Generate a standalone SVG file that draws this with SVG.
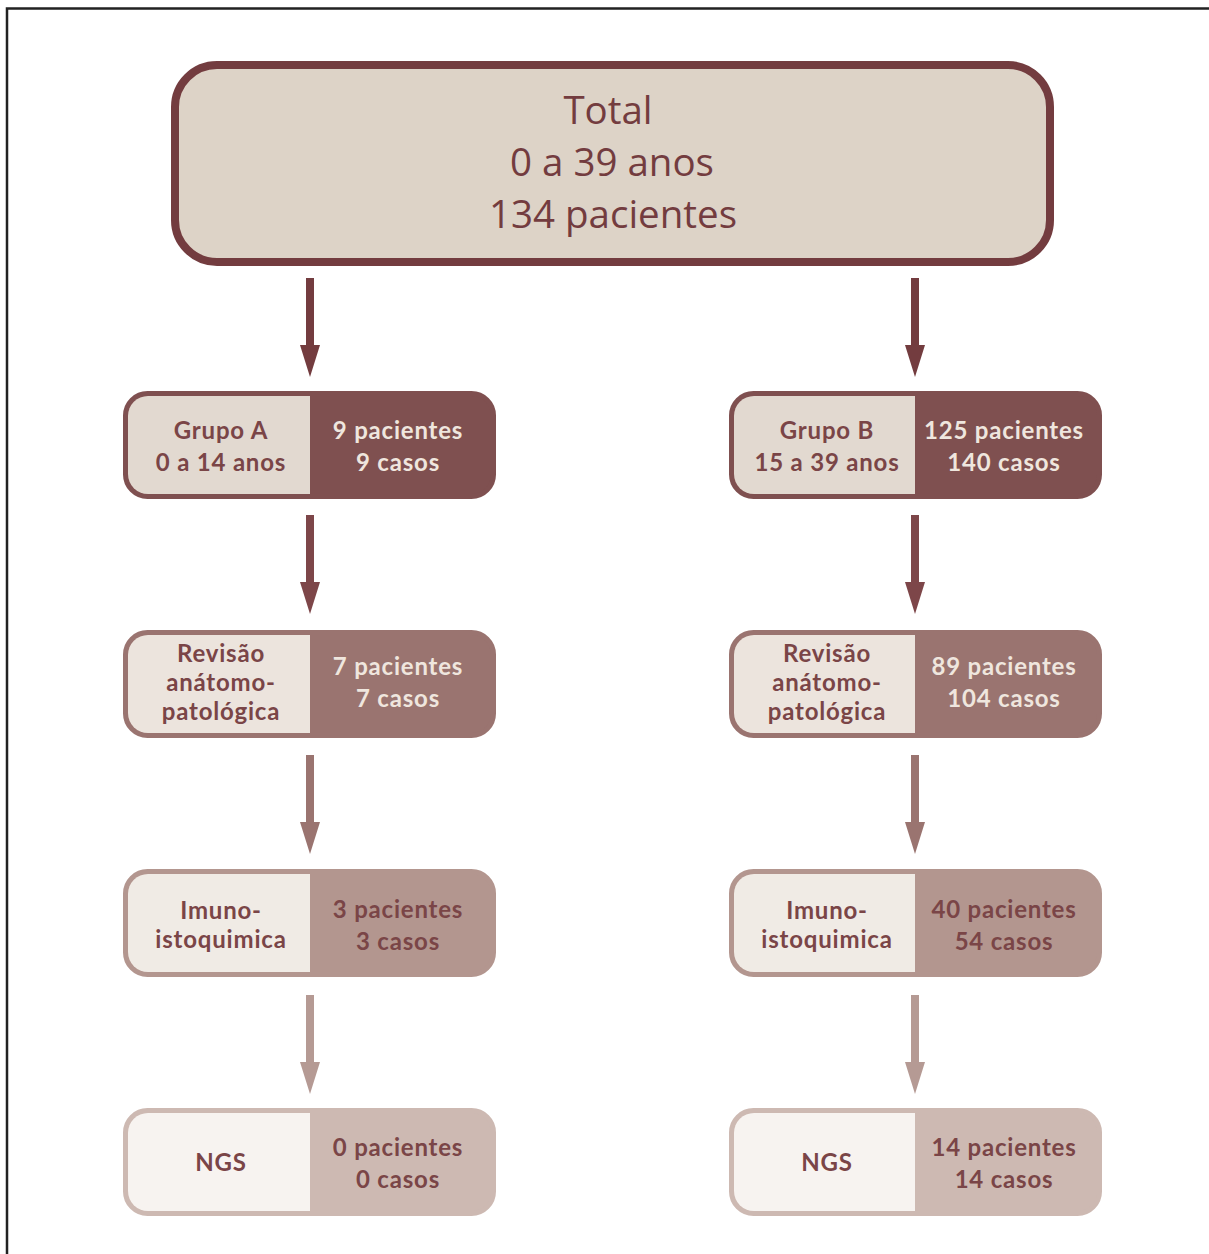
<svg xmlns="http://www.w3.org/2000/svg" width="1209" height="1254" viewBox="0 0 1209 1254">
<style>
  text { font-family: "Open Sans", "Liberation Sans", sans-serif; text-anchor: middle; }
  .top { font-size: 38.5px; fill: #733c3f; font-weight: 400; }
  .lbl { font-family: Lato, "Open Sans", sans-serif; font-size: 24px; font-weight: 700; letter-spacing: 0.8px; }
  .dk { fill: #7a4547; }
  .lt { fill: #efe6de; }
  .frame { fill: none; stroke: #222; stroke-width: 2.5; }
</style>
<rect width="1209" height="1254" fill="#fff"/>
<path class="frame" d="M7,1254 V8.5 H1209"/>

<g id="total">
  <rect x="175" y="65" width="875" height="197" rx="42" fill="#ddd3c7" stroke="#733c3f" stroke-width="8"/>
  <text class="top" x="608" y="124">Total</text>
  <text class="top" x="612" y="176">0 a 39 anos</text>
  <text class="top" x="613" y="228">134 pacientes</text>
</g>

<g id="connectors">
  <g fill="#733c3f">
    <rect x="306" y="278" width="8" height="68"/><path d="M300,345 H320 L310,377 Z"/>
    <rect x="911" y="278" width="8" height="68"/><path d="M905,345 H925 L915,377 Z"/>
  </g>
  <g fill="#7d4649">
    <rect x="306" y="515" width="8" height="68"/><path d="M300,582 H320 L310,614 Z"/>
    <rect x="911" y="515" width="8" height="68"/><path d="M905,582 H925 L915,614 Z"/>
  </g>
  <g fill="#9a7470">
    <rect x="306" y="755" width="8" height="68"/><path d="M300,822 H320 L310,854 Z"/>
    <rect x="911" y="755" width="8" height="68"/><path d="M905,822 H925 L915,854 Z"/>
  </g>
  <g fill="#b59a94">
    <rect x="306" y="995" width="8" height="68"/><path d="M300,1062 H320 L310,1094 Z"/>
    <rect x="911" y="995" width="8" height="68"/><path d="M905,1062 H925 L915,1094 Z"/>
  </g>
</g>

<g id="grupoA">
  <rect x="125.5" y="393.5" width="368" height="103" rx="22" fill="#7f5050" stroke="#7f5050" stroke-width="5"/>
  <path d="M310,396 H148 A20,20 0 0 0 128,416 V474 A20,20 0 0 0 148,494 H310 Z" fill="#e2d9d0"/>
  <text class="lbl dk" x="221" y="439">Grupo A<tspan x="221" dy="32">0 a 14 anos</tspan></text>
  <text class="lbl lt" x="398" y="439">9 pacientes<tspan x="398" dy="32">9 casos</tspan></text>
</g>
<g id="grupoB">
  <rect x="731.5" y="393.5" width="368" height="103" rx="22" fill="#7f5050" stroke="#7f5050" stroke-width="5"/>
  <path d="M915,396 H754 A20,20 0 0 0 734,416 V474 A20,20 0 0 0 754,494 H915 Z" fill="#e2d9d0"/>
  <text class="lbl dk" x="827" y="439">Grupo B<tspan x="827" dy="32">15 a 39 anos</tspan></text>
  <text class="lbl lt" x="1004" y="439">125 pacientes<tspan x="1004" dy="32">140 casos</tspan></text>
</g>

<g id="revisaoA">
  <rect x="125.5" y="632.5" width="368" height="103" rx="22" fill="#9a7470" stroke="#9a7470" stroke-width="5"/>
  <path d="M310,635 H148 A20,20 0 0 0 128,655 V713 A20,20 0 0 0 148,733 H310 Z" fill="#ece4dd"/>
  <text class="lbl dk" x="221" y="662">Revisão<tspan x="221" dy="28.8">anátomo-</tspan><tspan x="221" dy="28.8">patológica</tspan></text>
  <text class="lbl lt" x="398" y="675">7 pacientes<tspan x="398" dy="32">7 casos</tspan></text>
</g>
<g id="revisaoB">
  <rect x="731.5" y="632.5" width="368" height="103" rx="22" fill="#9a7470" stroke="#9a7470" stroke-width="5"/>
  <path d="M915,635 H754 A20,20 0 0 0 734,655 V713 A20,20 0 0 0 754,733 H915 Z" fill="#ece4dd"/>
  <text class="lbl dk" x="827" y="662">Revisão<tspan x="827" dy="28.8">anátomo-</tspan><tspan x="827" dy="28.8">patológica</tspan></text>
  <text class="lbl lt" x="1004" y="675">89 pacientes<tspan x="1004" dy="32">104 casos</tspan></text>
</g>

<g id="imunoA">
  <rect x="125.5" y="871.5" width="368" height="103" rx="22" fill="#b3968f" stroke="#b3968f" stroke-width="5"/>
  <path d="M310,874 H148 A20,20 0 0 0 128,894 V952 A20,20 0 0 0 148,972 H310 Z" fill="#f0ebe5"/>
  <text class="lbl dk" x="221" y="919">Imuno-<tspan x="221" dy="28.8">istoquimica</tspan></text>
  <text class="lbl dk" x="398" y="918">3 pacientes<tspan x="398" dy="32">3 casos</tspan></text>
</g>
<g id="imunoB">
  <rect x="731.5" y="871.5" width="368" height="103" rx="22" fill="#b3968f" stroke="#b3968f" stroke-width="5"/>
  <path d="M915,874 H754 A20,20 0 0 0 734,894 V952 A20,20 0 0 0 754,972 H915 Z" fill="#f0ebe5"/>
  <text class="lbl dk" x="827" y="919">Imuno-<tspan x="827" dy="28.8">istoquimica</tspan></text>
  <text class="lbl dk" x="1004" y="918">40 pacientes<tspan x="1004" dy="32">54 casos</tspan></text>
</g>

<g id="ngsA">
  <rect x="125.5" y="1110.5" width="368" height="103" rx="22" fill="#cdb9b2" stroke="#cdb9b2" stroke-width="5"/>
  <path d="M310,1113 H148 A20,20 0 0 0 128,1133 V1191 A20,20 0 0 0 148,1211 H310 Z" fill="#f7f3f0"/>
  <text class="lbl dk" x="221" y="1171">NGS</text>
  <text class="lbl dk" x="398" y="1156">0 pacientes<tspan x="398" dy="32">0 casos</tspan></text>
</g>
<g id="ngsB">
  <rect x="731.5" y="1110.5" width="368" height="103" rx="22" fill="#cdb9b2" stroke="#cdb9b2" stroke-width="5"/>
  <path d="M915,1113 H754 A20,20 0 0 0 734,1133 V1191 A20,20 0 0 0 754,1211 H915 Z" fill="#f7f3f0"/>
  <text class="lbl dk" x="827" y="1171">NGS</text>
  <text class="lbl dk" x="1004" y="1156">14 pacientes<tspan x="1004" dy="32">14 casos</tspan></text>
</g>
</svg>
